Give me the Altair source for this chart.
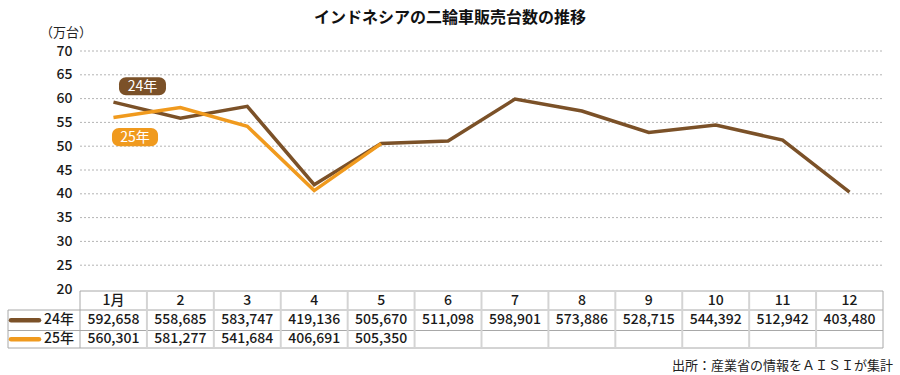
import altair as alt
import pandas as pd

FONT = "Noto Sans CJK JP"
BROWN = "#7B5128"
ORANGE = "#F09A1E"

months = list(range(1, 13))
month_labels = ["1月", "2", "3", "4", "5", "6", "7", "8", "9", "10", "11", "12"]
sales_24 = [592658, 558685, 583747, 419136, 505670, 511098, 598901, 573886, 528715, 544392, 512942, 403480]
sales_25 = [560301, 581277, 541684, 406691, 505350]
y_ticks = [20, 25, 30, 35, 40, 45, 50, 55, 60, 65, 70]

df24 = pd.DataFrame({"month": months, "sales": sales_24})
df24["man"] = df24["sales"] / 10000
df25 = pd.DataFrame({"month": months[:len(sales_25)], "sales": sales_25})
df25["man"] = df25["sales"] / 10000
hdr = pd.DataFrame({"month": months, "label": month_labels})

W, H = 803, 238
xs = alt.Scale(domain=[0.5, 12.5], nice=False, zero=False)
ys = alt.Scale(domain=[20, 70], nice=False, zero=False)
YAX = alt.Axis(values=y_ticks, grid=False, domain=False, ticks=False,
               labelFontSize=14, labelPadding=8, labelOverlap=False,
               labelColor="#1a1a1a", labelFont=FONT, labelFontWeight=500)
X = lambda f="month:Q": alt.X(f, scale=xs, axis=None)
Y = lambda f: alt.Y(f, scale=ys, title=None, axis=YAX)

grid = alt.Chart(pd.DataFrame({"v": y_ticks[1:]})).mark_rule(
    color="#b4b4b4", strokeWidth=1, strokeDash=[2, 2]
).encode(y=Y("v:Q"), x=alt.value(0), x2=alt.value(W))

line24 = alt.Chart(df24).mark_line(color=BROWN, strokeWidth=3.5, strokeJoin="miter").encode(
    x=X(), y=Y("man:Q")
)
line25 = alt.Chart(df25).mark_line(color=ORANGE, strokeWidth=3.5, strokeJoin="miter").encode(
    x=X(), y=Y("man:Q")
)

# badges
badges = pd.DataFrame({
    "x1": [1.083, 0.978], "x2": [1.785, 1.666],
    "y1": [64.5, 53.8], "y2": [60.7, 50.0],
    "label": ["24年", "25年"], "col": [BROWN, ORANGE],
})
badge_rect = alt.Chart(badges).mark_rect(cornerRadius=7).encode(
    x=X("x1:Q"), x2="x2:Q",
    y=Y("y1:Q"), y2="y2:Q",
    color=alt.Color("col:N", scale=None),
)
badges["xm"] = (badges["x1"] + badges["x2"]) / 2
badges["ym"] = (badges["y1"] + badges["y2"]) / 2
badge_text = alt.Chart(badges).mark_text(color="white", fontSize=14, baseline="middle", dy=1).encode(
    x=X("xm:Q"), y=Y("ym:Q"), text="label:N"
)

# table
TOP, R1, R2, BOT = 240, 259, 279.5, 297
hlines = pd.DataFrame({"py": [R1, R2, BOT]})
hrule = alt.Chart(hlines).mark_rule(color="#a8a8a8", strokeWidth=1).encode(
    x=alt.value(-72), x2=alt.value(W), y=alt.Y("py:Q", scale=None)
)
toprule = alt.Chart(pd.DataFrame({"py": [TOP]})).mark_rule(color="#a8a8a8", strokeWidth=1).encode(
    x=alt.value(0), x2=alt.value(W), y=alt.Y("py:Q", scale=None)
)
bounds = pd.DataFrame({"b": [m - 0.5 for m in months[1:]]})
vrule = alt.Chart(bounds).mark_rule(color="#d4d4d4", strokeWidth=2).encode(
    x=X("b:Q"), y=alt.value(TOP), y2=alt.value(BOT)
)
edges = pd.DataFrame({"b": [0.5, 12.5]})
vedge = alt.Chart(edges).mark_rule(color="#a8a8a8", strokeWidth=1).encode(
    x=X("b:Q"), y=alt.value(TOP), y2=alt.value(BOT)
)
leftedge = alt.Chart(pd.DataFrame({"py": [R1]})).mark_rule(color="#a8a8a8", strokeWidth=1).encode(
    x=alt.value(-72), y=alt.Y("py:Q", scale=None), y2=alt.value(BOT)
)

TXT = dict(fontSize=14, color="#1a1a1a", baseline="middle", fontWeight=500)
hdr_text = alt.Chart(hdr).mark_text(**TXT).encode(
    x=X(), y=alt.value((TOP + R1) / 2), text="label:N"
)
row24 = alt.Chart(df24).mark_text(**TXT).encode(
    x=X(), y=alt.value((R1 + R2) / 2), text=alt.Text("sales:Q", format=",")
)
row25 = alt.Chart(df25).mark_text(**TXT).encode(
    x=X(), y=alt.value((R2 + BOT) / 2), text=alt.Text("sales:Q", format=",")
)

series = pd.DataFrame({"label": ["24年", "25年"], "col": [BROWN, ORANGE],
                       "py": [(R1 + R2) / 2, (R2 + BOT) / 2]})
swatch = alt.Chart(series).mark_rule(strokeWidth=4.5, strokeCap="round").encode(
    x=alt.value(-69), x2=alt.value(-41), y=alt.Y("py:Q", scale=None),
    color=alt.Color("col:N", scale=None),
)
series_lbl = alt.Chart(series).mark_text(align="left", **TXT).encode(
    x=alt.value(-36), y=alt.Y("py:Q", scale=None), text="label:N"
)

title_txt = ["インドネシアの二輪車販売台数の推移"]
unit_txt = ["（万台）"]
source_txt = ["出所：産業省の情報をＡＩＳＩが集計"]
title = alt.Chart(pd.DataFrame({"t": title_txt})).mark_text(
    fontSize=16, fontWeight="bold", color="#111", baseline="middle"
).encode(x=alt.value(370), y=alt.value(-33), text="t:N")
unit = alt.Chart(pd.DataFrame({"t": unit_txt})).mark_text(
    fontSize=13, color="#222", baseline="middle"
).encode(x=alt.value(-14), y=alt.value(-18.5), text="t:N")
source = alt.Chart(pd.DataFrame({"t": source_txt})).mark_text(
    fontSize=13, color="#222", align="right", baseline="middle"
).encode(x=alt.value(813), y=alt.value(315), text="t:N")

chart = alt.layer(
    grid, line24, line25, badge_rect, badge_text,
    hrule, toprule, vrule, vedge, leftedge,
    hdr_text, row24, row25, swatch, series_lbl,
    title, unit, source,
).properties(
    width=W, height=H,
    autosize=alt.AutoSizeParams(type="none"),
    padding={"left": 80, "top": 51, "right": 17, "bottom": 86},
).configure(font=FONT).configure_view(stroke=None)

chart.save("out.html", embed_options={"renderer": "svg", "actions": False})
